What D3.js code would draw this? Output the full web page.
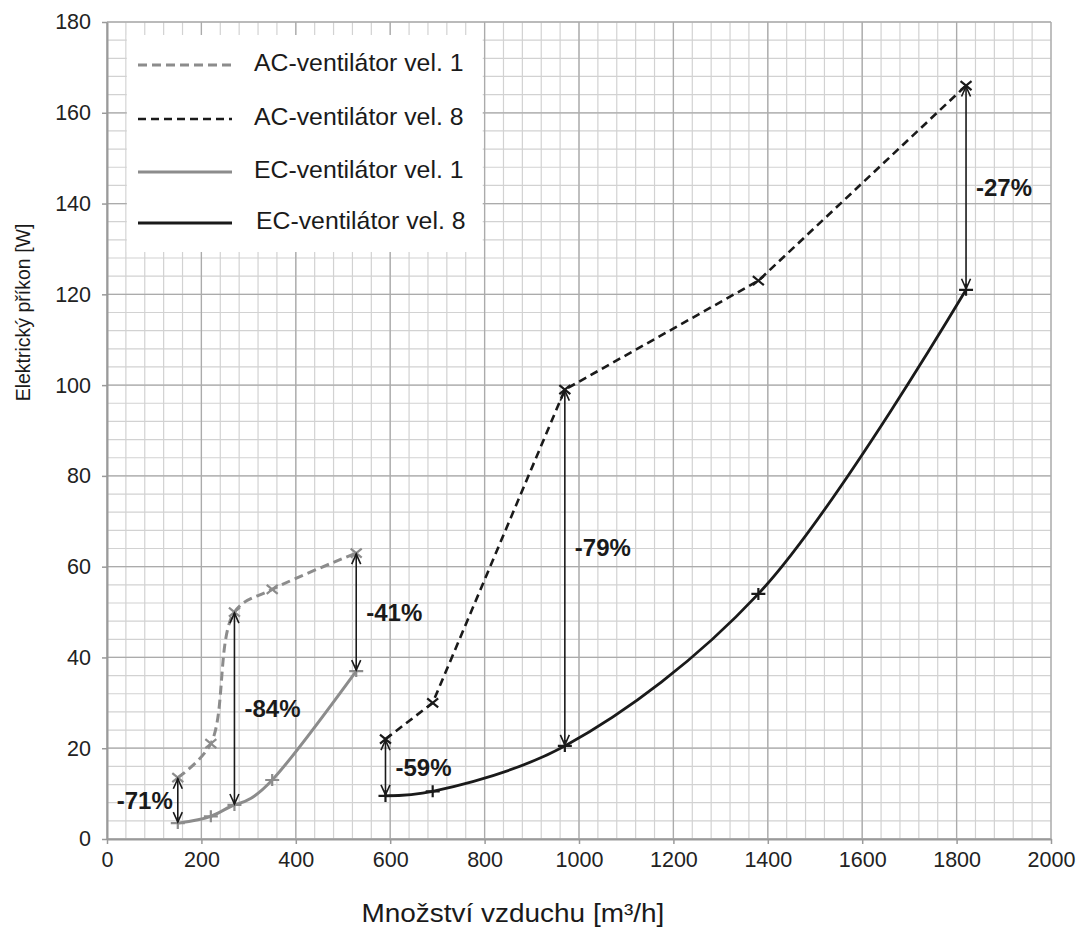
<!DOCTYPE html>
<html>
<head>
<meta charset="utf-8">
<script src="https://cdn.jsdelivr.net/npm/d3@7"></script>
<style>
  body { margin: 0; background: #fff; }
  #chart text { font-family: "Liberation Sans", Arial, sans-serif; fill: #1a1a1a; }
</style>
</head>
<body>
<div id="chart"></div>
<script>
// values
let acVel1X = [150, 220, 270, 350, 528];
let acVel1Y = [13.5, 21, 50, 55, 63];
let ecVel1X = [150, 220, 270, 350, 528];
let ecVel1Y = [3.5, 5, 7.5, 13, 37];
let acVel8X = [590, 690, 970, 1380, 1820];
let acVel8Y = [22, 30, 99, 123, 166];
let ecVel8X = [590, 690, 970, 1380, 1820];
let ecVel8Y = [9.5, 10.5, 20.5, 54, 121];

// savings arrows: x, top value, bottom value, label
let arrowX = [150, 270, 528, 590, 970, 1820];
let arrowTop = [13.5, 50, 63, 22, 99, 166];
let arrowBottom = [3.5, 7.5, 37, 9.5, 20.5, 121];
let arrowLabels = ["-71%", "-84%", "-41%", "-59%", "-79%", "-27%"];

let xTicks = [0, 200, 400, 600, 800, 1000, 1200, 1400, 1600, 1800, 2000];
let yTicks = [0, 20, 40, 60, 80, 100, 120, 140, 160, 180];
let legendNames = ["AC-ventilátor vel. 1", "AC-ventilátor vel. 8", "EC-ventilátor vel. 1", "EC-ventilátor vel. 8"];

const grey = "#8c8c8c", black = "#1a1a1a";

let W = 1092, H = 927;
let margin = { top: 22, right: 41, bottom: 88, left: 107 },
    width = W - margin.left - margin.right,
    height = H - margin.top - margin.bottom;

let svg = d3.select("#chart").append("svg")
    .attr("width", W).attr("height", H)
    .append("g")
    .attr("transform", "translate(" + margin.left + "," + margin.top + ")");

let x = d3.scaleLinear().domain([0, 2000]).range([0, width]);
let y = d3.scaleLinear().domain([0, 180]).range([height, 0]);

// minor grid
svg.append("g").selectAll("line")
    .data(d3.range(0, 2001, 40)).enter().append("line")
    .attr("x1", d => x(d)).attr("x2", d => x(d))
    .attr("y1", 0).attr("y2", height)
    .attr("stroke", "#d2d2d2").attr("stroke-width", 1.2);
svg.append("g").selectAll("line")
    .data(d3.range(0, 181, 4)).enter().append("line")
    .attr("y1", d => y(d)).attr("y2", d => y(d))
    .attr("x1", 0).attr("x2", width)
    .attr("stroke", "#d2d2d2").attr("stroke-width", 1.2);

// major grid
svg.append("g").selectAll("line")
    .data(xTicks).enter().append("line")
    .attr("x1", d => x(d)).attr("x2", d => x(d))
    .attr("y1", 0).attr("y2", height)
    .attr("stroke", "#ababab").attr("stroke-width", 1.3);
svg.append("g").selectAll("line")
    .data(yTicks).enter().append("line")
    .attr("y1", d => y(d)).attr("y2", d => y(d))
    .attr("x1", 0).attr("x2", width)
    .attr("stroke", "#ababab").attr("stroke-width", 1.3);

// axes
let xAxis = svg.append("g")
    .attr("transform", "translate(0," + height + ")")
    .call(d3.axisBottom(x).tickValues(xTicks).tickFormat(d3.format("d"))
        .tickSize(5).tickPadding(6).tickSizeOuter(0));
let yAxis = svg.append("g")
    .call(d3.axisLeft(y).tickValues(yTicks).tickFormat(d3.format("d"))
        .tickSize(5).tickPadding(11).tickSizeOuter(0));
[xAxis, yAxis].forEach(function (a) {
    a.select(".domain").attr("stroke", "#9a9a9a").attr("stroke-width", 2);
    a.selectAll(".tick line").attr("stroke", "#9a9a9a").attr("stroke-width", 1.5);
    a.selectAll(".tick text").attr("font-size", 21.5).style("fill", "#222");
});
xAxis.selectAll(".tick text").attr("dy", "0.8em");

// axis titles
svg.append("text")
    .attr("x", x(860)).attr("y", height + 83)
    .attr("text-anchor", "middle")
    .attr("font-size", 25)
    .attr("textLength", 303).attr("lengthAdjust", "spacingAndGlyphs")
    .text("Množství vzduchu [m³/h]");
svg.append("g")
    .attr("transform", "translate(" + (-84) + "," + (y(116)) + ") rotate(-90)")
    .append("text")
    .attr("dy", "0.35em")
    .attr("text-anchor", "middle")
    .style("font-size", "19.5px")
    .text("Elektrický příkon [W]");

// series
function zip(xs, ys) { return xs.map((v, i) => ({ x: v, y: ys[i] })); }
let series = [
    { data: zip(acVel1X, acVel1Y), color: grey, dash: "9,5", w: 3, mark: "x", curve: d3.curveCatmullRom },
    { data: zip(acVel8X, acVel8Y), color: black, dash: "8,5", w: 2.6, mark: "x", curve: d3.curveLinear },
    { data: zip(ecVel1X, ecVel1Y), color: grey, dash: null, w: 3, mark: "+", curve: d3.curveNatural },
    { data: zip(ecVel8X, ecVel8Y), color: black, dash: null, w: 2.8, mark: "+", curve: d3.curveCatmullRom }
];

series.forEach(function (s) {
    svg.append("path")
        .datum(s.data)
        .attr("fill", "none")
        .attr("stroke", s.color)
        .attr("stroke-width", s.w)
        .attr("stroke-dasharray", s.dash)
        .attr("d", d3.line().curve(s.curve)
            .x(d => x(d.x))
            .y(d => y(d.y)));

    let markPath = s.mark === "x" ? "M-5.5,-4.5L5.5,4.5M-5.5,4.5L5.5,-4.5" : "M-7,0L7,0M0,-6L0,6";
    svg.append("g").selectAll("path")
        .data(s.data).enter().append("path")
        .attr("transform", d => "translate(" + x(d.x) + "," + y(d.y) + ")")
        .attr("d", markPath)
        .attr("fill", "none")
        .attr("stroke", s.color)
        .attr("stroke-width", 2.2);
});

// double headed arrows with the savings
let head = "M-4.5,10L0,0L4.5,10";
arrowX.forEach(function (ax, i) {
    let px = x(ax), pt = y(arrowTop[i]), pb = y(arrowBottom[i]);
    let g = svg.append("g").attr("stroke", black).attr("fill", "none").attr("stroke-width", 1.6);
    g.append("line").attr("x1", px).attr("x2", px).attr("y1", pt + 1).attr("y2", pb - 1);
    g.append("path").attr("transform", "translate(" + px + "," + (pt + 1) + ")").attr("d", head);
    g.append("path").attr("transform", "translate(" + px + "," + (pb - 1) + ") rotate(180)").attr("d", head);

    let left = arrowLabels[i] === "-71%";
    let nudge = arrowLabels[i] === "-79%" ? -20 : 0;
    svg.append("text")
        .attr("x", left ? px - 5 : px + 10)
        .attr("y", (pt + pb) / 2 + nudge)
        .attr("dy", "0.36em")
        .attr("text-anchor", left ? "end" : "start")
        .attr("font-size", 24)
        .attr("font-weight", "bold")
        .text(arrowLabels[i]);
});

// legend
let legend = svg.append("g");
legend.append("rect")
    .attr("x", x(42)).attr("y", 13)
    .attr("width", x(796) - x(42)).attr("height", 217)
    .attr("fill", "#fff");
let legendY = [43, 97, 150, 201];
legendNames.forEach(function (name, i) {
    let s = series[i];
    legend.append("line")
        .attr("x1", 31).attr("x2", 125)
        .attr("y1", legendY[i]).attr("y2", legendY[i])
        .attr("stroke", s.color)
        .attr("stroke-width", s.w)
        .attr("stroke-dasharray", s.dash);
    legend.append("text")
        .attr("x", i === 3 ? 149 : 147)
        .attr("y", legendY[i] - 3)
        .attr("dy", "0.36em")
        .attr("font-size", 24.8)
        .text(name);
});
</script>
</body>
</html>
